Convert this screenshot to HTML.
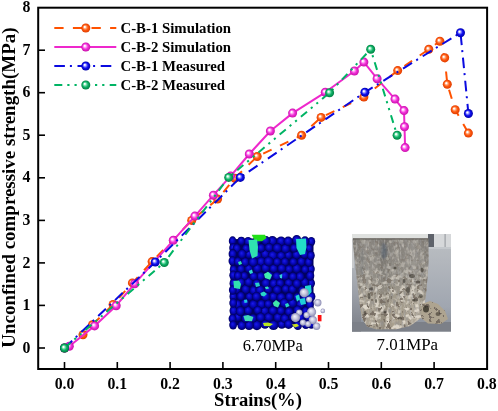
<!DOCTYPE html>
<html><head><meta charset="utf-8"><style>
html,body{margin:0;padding:0;background:#fff;width:498px;height:411px;overflow:hidden}
svg{display:block;will-change:transform}
.tl{font-family:"Liberation Serif",serif;font-weight:bold;font-size:15.8px;fill:#000}
.al{font-family:"Liberation Serif",serif;font-weight:bold;font-size:18.6px;fill:#000}
.yl{font-size:18.95px}
.lg{font-family:"Liberation Serif",serif;font-weight:bold;font-size:14.8px;fill:#000}
.it{font-family:"Liberation Serif",serif;font-size:16.3px;fill:#000}
</style></head><body>
<svg width="498" height="411" viewBox="0 0 498 411">
<defs><radialGradient id="gO" cx="0.5" cy="0.5" r="0.5" fx="0.36" fy="0.36">
<stop offset="0" stop-color="#ffffff"/><stop offset="0.12" stop-color="#ffffff" stop-opacity="0.95"/><stop offset="0.35" stop-color="#ffa070"/><stop offset="0.6" stop-color="#ff5a10"/><stop offset="1" stop-color="#e03c00"/></radialGradient><radialGradient id="gM" cx="0.5" cy="0.5" r="0.5" fx="0.36" fy="0.36">
<stop offset="0" stop-color="#ffffff"/><stop offset="0.12" stop-color="#ffffff" stop-opacity="0.95"/><stop offset="0.35" stop-color="#ff90f0"/><stop offset="0.6" stop-color="#f030d8"/><stop offset="1" stop-color="#c810a8"/></radialGradient><radialGradient id="gB" cx="0.5" cy="0.5" r="0.5" fx="0.36" fy="0.36">
<stop offset="0" stop-color="#ffffff"/><stop offset="0.12" stop-color="#ffffff" stop-opacity="0.95"/><stop offset="0.35" stop-color="#8080ff"/><stop offset="0.6" stop-color="#1010f0"/><stop offset="1" stop-color="#0000a8"/></radialGradient><radialGradient id="gG" cx="0.5" cy="0.5" r="0.5" fx="0.36" fy="0.36">
<stop offset="0" stop-color="#ffffff"/><stop offset="0.12" stop-color="#ffffff" stop-opacity="0.95"/><stop offset="0.35" stop-color="#70e0a8"/><stop offset="0.6" stop-color="#10b068"/><stop offset="1" stop-color="#008040"/></radialGradient><radialGradient id="sb" cx="0.5" cy="0.5" r="0.5" fx="0.42" fy="0.38">
<stop offset="0" stop-color="#1c1cec"/><stop offset="0.55" stop-color="#0606b8"/><stop offset="1" stop-color="#00005c"/></radialGradient>
<radialGradient id="sw" cx="0.5" cy="0.5" r="0.5" fx="0.4" fy="0.35">
<stop offset="0" stop-color="#f4f4fc"/><stop offset="0.45" stop-color="#ceceE4"/><stop offset="1" stop-color="#8c8cb4"/></radialGradient>
<linearGradient id="floor" x1="0" y1="0" x2="0" y2="1">
<stop offset="0" stop-color="#bcc0c4"/><stop offset="0.3" stop-color="#b2b6bc"/><stop offset="0.75" stop-color="#a0a6b0"/><stop offset="1" stop-color="#868c96"/></linearGradient>
<linearGradient id="samp" x1="0" y1="0" x2="0" y2="1">
<stop offset="0" stop-color="#86827c"/><stop offset="0.4" stop-color="#928e86"/><stop offset="0.7" stop-color="#a69e8e"/><stop offset="1" stop-color="#aca290"/></linearGradient>
<linearGradient id="sampH" x1="0" y1="0" x2="1" y2="0">
<stop offset="0" stop-color="#000" stop-opacity="0.12"/><stop offset="0.15" stop-color="#fff" stop-opacity="0.04"/><stop offset="0.4" stop-color="#000" stop-opacity="0.12"/><stop offset="0.55" stop-color="#000" stop-opacity="0.0"/><stop offset="0.8" stop-color="#fff" stop-opacity="0.1"/><stop offset="1" stop-color="#000" stop-opacity="0.04"/></linearGradient>
<filter id="grain" x="0" y="0" width="1" height="1">
<feTurbulence type="fractalNoise" baseFrequency="0.5 0.14" numOctaves="2" seed="5" result="n"/>
<feColorMatrix in="n" type="matrix" values="0 0 0 0 0.3  0 0 0 0 0.29  0 0 0 0 0.28  -3.2 0 0 0 1.75" result="a"/>
<feComposite in="a" in2="SourceGraphic" operator="in"/>
</filter>
<filter id="grainL" x="0" y="0" width="1" height="1">
<feTurbulence type="fractalNoise" baseFrequency="0.5 0.2" numOctaves="2" seed="15" result="n"/>
<feColorMatrix in="n" type="matrix" values="0 0 0 0 0.85  0 0 0 0 0.81  0 0 0 0 0.74  3.4 0 0 0 -1.75" result="a"/>
<feComposite in="a" in2="SourceGraphic" operator="in"/>
</filter>
<filter id="spots" x="0" y="0" width="1" height="1">
<feTurbulence type="fractalNoise" baseFrequency="0.24" numOctaves="3" seed="9" result="n"/>
<feColorMatrix in="n" type="matrix" values="0 0 0 0 0.18  0 0 0 0 0.15  0 0 0 0 0.12  0 0 0 -16 6.4" result="a"/>
<feComposite in="a" in2="SourceGraphic" operator="in"/>
</filter>
<filter id="light" x="0" y="0" width="1" height="1">
<feTurbulence type="fractalNoise" baseFrequency="0.2" numOctaves="2" seed="21" result="n"/>
<feColorMatrix in="n" type="matrix" values="0 0 0 0 0.85  0 0 0 0 0.8  0 0 0 0 0.71  0 0 0 5 -2.45" result="a"/>
<feComposite in="a" in2="SourceGraphic" operator="in"/>
</filter>
<linearGradient id="lowmask" x1="0" y1="0" x2="0" y2="1">
<stop offset="0" stop-color="#000" stop-opacity="0.3"/><stop offset="0.3" stop-color="#000" stop-opacity="0.45"/><stop offset="0.55" stop-color="#000" stop-opacity="0.8"/><stop offset="0.75" stop-color="#000" stop-opacity="1"/></linearGradient>
<linearGradient id="lfloor" x1="0" y1="0" x2="0" y2="1"><stop offset="0" stop-color="#aeb2b8"/><stop offset="0.4" stop-color="#9ca0a8"/><stop offset="1" stop-color="#7a7e86"/></linearGradient>
<filter id="bl1"><feGaussianBlur stdDeviation="1.2"/></filter>
<filter id="blS" x="-0.05" y="-0.05" width="1.1" height="1.1"><feGaussianBlur stdDeviation="0.55"/></filter>
<filter id="bl05"><feGaussianBlur stdDeviation="0.6"/></filter></defs>
<rect x="38.2" y="7.7" width="448.9" height="361.3" fill="none" stroke="#000" stroke-width="2"/>
<line x1="64.5" y1="368" x2="64.5" y2="362" stroke="#000" stroke-width="1.6"/>
<line x1="117.3" y1="368" x2="117.3" y2="362" stroke="#000" stroke-width="1.6"/>
<line x1="170.1" y1="368" x2="170.1" y2="362" stroke="#000" stroke-width="1.6"/>
<line x1="222.9" y1="368" x2="222.9" y2="362" stroke="#000" stroke-width="1.6"/>
<line x1="275.7" y1="368" x2="275.7" y2="362" stroke="#000" stroke-width="1.6"/>
<line x1="328.5" y1="368" x2="328.5" y2="362" stroke="#000" stroke-width="1.6"/>
<line x1="381.3" y1="368" x2="381.3" y2="362" stroke="#000" stroke-width="1.6"/>
<line x1="434.1" y1="368" x2="434.1" y2="362" stroke="#000" stroke-width="1.6"/>
<line x1="39" y1="348.0" x2="45" y2="348.0" stroke="#000" stroke-width="1.6"/>
<line x1="39" y1="305.4" x2="45" y2="305.4" stroke="#000" stroke-width="1.6"/>
<line x1="39" y1="262.9" x2="45" y2="262.9" stroke="#000" stroke-width="1.6"/>
<line x1="39" y1="220.4" x2="45" y2="220.4" stroke="#000" stroke-width="1.6"/>
<line x1="39" y1="177.8" x2="45" y2="177.8" stroke="#000" stroke-width="1.6"/>
<line x1="39" y1="135.2" x2="45" y2="135.2" stroke="#000" stroke-width="1.6"/>
<line x1="39" y1="92.7" x2="45" y2="92.7" stroke="#000" stroke-width="1.6"/>
<line x1="39" y1="50.2" x2="45" y2="50.2" stroke="#000" stroke-width="1.6"/>
<text x="64.5" y="389" class="tl" text-anchor="middle">0.0</text>
<text x="117.3" y="389" class="tl" text-anchor="middle">0.1</text>
<text x="170.1" y="389" class="tl" text-anchor="middle">0.2</text>
<text x="222.9" y="389" class="tl" text-anchor="middle">0.3</text>
<text x="275.7" y="389" class="tl" text-anchor="middle">0.4</text>
<text x="328.5" y="389" class="tl" text-anchor="middle">0.5</text>
<text x="381.3" y="389" class="tl" text-anchor="middle">0.6</text>
<text x="434.1" y="389" class="tl" text-anchor="middle">0.7</text>
<text x="486.9" y="389" class="tl" text-anchor="middle">0.8</text>
<text x="30.3" y="352.6" class="tl" text-anchor="end">0</text>
<text x="30.3" y="310.1" class="tl" text-anchor="end">1</text>
<text x="30.3" y="267.5" class="tl" text-anchor="end">2</text>
<text x="30.3" y="225.0" class="tl" text-anchor="end">3</text>
<text x="30.3" y="182.4" class="tl" text-anchor="end">4</text>
<text x="30.3" y="139.8" class="tl" text-anchor="end">5</text>
<text x="30.3" y="97.3" class="tl" text-anchor="end">6</text>
<text x="30.3" y="54.8" class="tl" text-anchor="end">7</text>
<text x="30.3" y="12.2" class="tl" text-anchor="end">8</text>
<text x="258" y="405.6" class="al" text-anchor="middle">Strains(%)</text>
<text transform="translate(14.6,187.6) rotate(-90)" class="al yl" text-anchor="middle">Unconfined compressive strength(MPa)</text>
<path d="M232.5,239.2 Q272.0,237.2 311.5,239.2 L313.5,244.2 L313.5,324.5 Q272.0,329.5 230.5,324.5 L230.5,244.2 Z" fill="#02025e"/>
<ellipse cx="232.6" cy="240.9" rx="3.8" ry="4.6" fill="url(#sb)"/>
<ellipse cx="311.3" cy="241.6" rx="3.9" ry="4.7" fill="url(#sb)"/>
<ellipse cx="233.6" cy="310.8" rx="4.1" ry="4.8" fill="url(#sb)"/>
<ellipse cx="268.2" cy="289.4" rx="4.5" ry="4.5" fill="url(#sb)"/>
<ellipse cx="236.8" cy="289.3" rx="4.1" ry="4.7" fill="url(#sb)"/>
<ellipse cx="256.9" cy="325.2" rx="4.9" ry="5.0" fill="url(#sb)"/>
<ellipse cx="301.4" cy="261.7" rx="4.4" ry="4.8" fill="url(#sb)"/>
<ellipse cx="311.1" cy="311.1" rx="3.9" ry="4.7" fill="url(#sb)"/>
<ellipse cx="308.8" cy="317.5" rx="4.2" ry="4.8" fill="url(#sb)"/>
<ellipse cx="265.3" cy="254.0" rx="4.8" ry="4.8" fill="url(#sb)"/>
<ellipse cx="309.2" cy="248.2" rx="3.8" ry="4.4" fill="url(#sb)"/>
<ellipse cx="233.6" cy="283.4" rx="4.1" ry="4.8" fill="url(#sb)"/>
<ellipse cx="305.6" cy="311.1" rx="4.1" ry="4.7" fill="url(#sb)"/>
<ellipse cx="249.5" cy="296.6" rx="4.1" ry="4.4" fill="url(#sb)"/>
<ellipse cx="264.6" cy="311.0" rx="4.8" ry="4.8" fill="url(#sb)"/>
<ellipse cx="288.3" cy="255.0" rx="4.2" ry="4.3" fill="url(#sb)"/>
<ellipse cx="300.3" cy="304.4" rx="4.4" ry="4.8" fill="url(#sb)"/>
<ellipse cx="253.9" cy="290.4" rx="4.7" ry="4.9" fill="url(#sb)"/>
<ellipse cx="248.2" cy="310.5" rx="4.4" ry="4.7" fill="url(#sb)"/>
<ellipse cx="272.4" cy="241.0" rx="4.9" ry="4.9" fill="url(#sb)"/>
<ellipse cx="304.4" cy="254.0" rx="4.4" ry="4.9" fill="url(#sb)"/>
<ellipse cx="233.3" cy="296.5" rx="3.8" ry="4.4" fill="url(#sb)"/>
<ellipse cx="237.9" cy="304.3" rx="4.0" ry="4.5" fill="url(#sb)"/>
<ellipse cx="310.9" cy="269.1" rx="3.9" ry="4.7" fill="url(#sb)"/>
<ellipse cx="273.3" cy="296.7" rx="4.6" ry="4.6" fill="url(#sb)"/>
<ellipse cx="265.9" cy="283.1" rx="4.9" ry="4.9" fill="url(#sb)"/>
<ellipse cx="281.8" cy="324.3" rx="4.4" ry="4.4" fill="url(#sb)"/>
<ellipse cx="260.1" cy="290.0" rx="4.8" ry="4.9" fill="url(#sb)"/>
<ellipse cx="233.5" cy="269.6" rx="3.8" ry="4.5" fill="url(#sb)"/>
<ellipse cx="272.8" cy="255.5" rx="5.0" ry="5.0" fill="url(#sb)"/>
<ellipse cx="232.8" cy="290.1" rx="3.9" ry="4.7" fill="url(#sb)"/>
<ellipse cx="296.7" cy="268.5" rx="4.6" ry="4.9" fill="url(#sb)"/>
<ellipse cx="269.7" cy="275.5" rx="4.4" ry="4.4" fill="url(#sb)"/>
<ellipse cx="281.1" cy="255.7" rx="4.5" ry="4.5" fill="url(#sb)"/>
<ellipse cx="253.0" cy="318.2" rx="4.3" ry="4.4" fill="url(#sb)"/>
<ellipse cx="233.2" cy="247.9" rx="4.0" ry="4.7" fill="url(#sb)"/>
<ellipse cx="273.6" cy="268.5" rx="4.5" ry="4.5" fill="url(#sb)"/>
<ellipse cx="297.6" cy="310.2" rx="4.5" ry="4.8" fill="url(#sb)"/>
<ellipse cx="288.7" cy="283.1" rx="4.5" ry="4.7" fill="url(#sb)"/>
<ellipse cx="248.8" cy="268.5" rx="4.3" ry="4.6" fill="url(#sb)"/>
<ellipse cx="309.8" cy="304.6" rx="4.0" ry="4.7" fill="url(#sb)"/>
<ellipse cx="296.5" cy="254.6" rx="4.5" ry="4.7" fill="url(#sb)"/>
<ellipse cx="248.1" cy="241.4" rx="4.2" ry="4.5" fill="url(#sb)"/>
<ellipse cx="296.7" cy="240.0" rx="4.6" ry="4.9" fill="url(#sb)"/>
<ellipse cx="256.6" cy="241.7" rx="4.5" ry="4.6" fill="url(#sb)"/>
<ellipse cx="248.9" cy="254.2" rx="4.3" ry="4.5" fill="url(#sb)"/>
<ellipse cx="289.0" cy="269.2" rx="4.3" ry="4.4" fill="url(#sb)"/>
<ellipse cx="285.5" cy="248.6" rx="4.8" ry="4.9" fill="url(#sb)"/>
<ellipse cx="281.1" cy="297.2" rx="4.6" ry="4.6" fill="url(#sb)"/>
<ellipse cx="311.1" cy="283.3" rx="3.9" ry="4.7" fill="url(#sb)"/>
<ellipse cx="257.6" cy="255.5" rx="4.2" ry="4.3" fill="url(#sb)"/>
<ellipse cx="304.8" cy="282.4" rx="4.4" ry="4.9" fill="url(#sb)"/>
<ellipse cx="261.1" cy="261.7" rx="4.8" ry="4.8" fill="url(#sb)"/>
<ellipse cx="245.1" cy="262.1" rx="4.4" ry="4.7" fill="url(#sb)"/>
<ellipse cx="273.5" cy="325.1" rx="5.0" ry="5.0" fill="url(#sb)"/>
<ellipse cx="265.6" cy="267.9" rx="4.7" ry="4.7" fill="url(#sb)"/>
<ellipse cx="310.1" cy="275.7" rx="4.2" ry="5.0" fill="url(#sb)"/>
<ellipse cx="276.7" cy="276.3" rx="4.5" ry="4.5" fill="url(#sb)"/>
<ellipse cx="281.1" cy="241.2" rx="4.7" ry="4.8" fill="url(#sb)"/>
<ellipse cx="265.8" cy="240.8" rx="4.7" ry="4.7" fill="url(#sb)"/>
<ellipse cx="278.0" cy="317.4" rx="4.8" ry="4.8" fill="url(#sb)"/>
<ellipse cx="236.9" cy="248.3" rx="4.1" ry="4.6" fill="url(#sb)"/>
<ellipse cx="237.9" cy="317.2" rx="3.9" ry="4.4" fill="url(#sb)"/>
<ellipse cx="284.9" cy="261.9" rx="4.2" ry="4.3" fill="url(#sb)"/>
<ellipse cx="284.8" cy="275.7" rx="4.5" ry="4.6" fill="url(#sb)"/>
<ellipse cx="268.7" cy="317.3" rx="4.8" ry="4.8" fill="url(#sb)"/>
<ellipse cx="245.7" cy="289.2" rx="4.5" ry="4.9" fill="url(#sb)"/>
<ellipse cx="277.1" cy="261.9" rx="4.3" ry="4.3" fill="url(#sb)"/>
<ellipse cx="284.9" cy="318.4" rx="4.6" ry="4.7" fill="url(#sb)"/>
<ellipse cx="308.8" cy="262.2" rx="4.2" ry="4.8" fill="url(#sb)"/>
<ellipse cx="294.1" cy="248.1" rx="4.2" ry="4.4" fill="url(#sb)"/>
<ellipse cx="273.9" cy="283.5" rx="4.7" ry="4.7" fill="url(#sb)"/>
<ellipse cx="265.7" cy="296.6" rx="4.8" ry="4.9" fill="url(#sb)"/>
<ellipse cx="289.1" cy="311.7" rx="4.5" ry="4.6" fill="url(#sb)"/>
<ellipse cx="260.7" cy="276.4" rx="4.7" ry="4.7" fill="url(#sb)"/>
<ellipse cx="253.4" cy="304.5" rx="4.7" ry="4.9" fill="url(#sb)"/>
<ellipse cx="232.7" cy="254.0" rx="4.1" ry="4.9" fill="url(#sb)"/>
<ellipse cx="292.6" cy="317.3" rx="4.1" ry="4.3" fill="url(#sb)"/>
<ellipse cx="311.3" cy="324.1" rx="3.9" ry="4.7" fill="url(#sb)"/>
<ellipse cx="284.3" cy="303.1" rx="4.8" ry="4.9" fill="url(#sb)"/>
<ellipse cx="261.4" cy="304.2" rx="4.6" ry="4.7" fill="url(#sb)"/>
<ellipse cx="249.1" cy="325.2" rx="4.7" ry="4.9" fill="url(#sb)"/>
<ellipse cx="241.0" cy="269.0" rx="4.1" ry="4.5" fill="url(#sb)"/>
<ellipse cx="233.3" cy="275.3" rx="4.0" ry="4.7" fill="url(#sb)"/>
<ellipse cx="300.1" cy="276.6" rx="4.5" ry="4.9" fill="url(#sb)"/>
<ellipse cx="301.1" cy="317.6" rx="4.1" ry="4.4" fill="url(#sb)"/>
<ellipse cx="232.5" cy="318.7" rx="3.9" ry="4.7" fill="url(#sb)"/>
<ellipse cx="292.5" cy="302.9" rx="4.7" ry="4.9" fill="url(#sb)"/>
<ellipse cx="248.6" cy="282.0" rx="4.5" ry="4.7" fill="url(#sb)"/>
<ellipse cx="280.1" cy="283.2" rx="4.4" ry="4.4" fill="url(#sb)"/>
<ellipse cx="245.0" cy="303.1" rx="4.5" ry="4.9" fill="url(#sb)"/>
<ellipse cx="232.4" cy="261.0" rx="3.9" ry="4.7" fill="url(#sb)"/>
<ellipse cx="252.4" cy="247.3" rx="4.8" ry="5.0" fill="url(#sb)"/>
<ellipse cx="237.9" cy="261.6" rx="4.1" ry="4.6" fill="url(#sb)"/>
<ellipse cx="285.7" cy="288.9" rx="4.3" ry="4.3" fill="url(#sb)"/>
<ellipse cx="280.8" cy="310.7" rx="4.3" ry="4.4" fill="url(#sb)"/>
<ellipse cx="268.3" cy="304.0" rx="4.3" ry="4.3" fill="url(#sb)"/>
<ellipse cx="233.1" cy="325.0" rx="3.9" ry="4.6" fill="url(#sb)"/>
<ellipse cx="268.6" cy="261.4" rx="5.0" ry="5.0" fill="url(#sb)"/>
<ellipse cx="253.7" cy="276.4" rx="4.3" ry="4.4" fill="url(#sb)"/>
<ellipse cx="297.2" cy="297.2" rx="4.1" ry="4.4" fill="url(#sb)"/>
<ellipse cx="276.4" cy="304.3" rx="4.3" ry="4.3" fill="url(#sb)"/>
<ellipse cx="311.5" cy="296.6" rx="3.9" ry="4.7" fill="url(#sb)"/>
<ellipse cx="265.0" cy="324.3" rx="4.4" ry="4.5" fill="url(#sb)"/>
<ellipse cx="257.3" cy="268.4" rx="4.5" ry="4.6" fill="url(#sb)"/>
<ellipse cx="240.8" cy="296.1" rx="4.2" ry="4.7" fill="url(#sb)"/>
<ellipse cx="233.2" cy="303.0" rx="3.9" ry="4.7" fill="url(#sb)"/>
<ellipse cx="246.0" cy="248.5" rx="4.1" ry="4.4" fill="url(#sb)"/>
<ellipse cx="310.9" cy="255.6" rx="3.9" ry="4.7" fill="url(#sb)"/>
<ellipse cx="305.8" cy="324.5" rx="4.1" ry="4.6" fill="url(#sb)"/>
<ellipse cx="244.3" cy="275.9" rx="4.1" ry="4.4" fill="url(#sb)"/>
<ellipse cx="261.0" cy="248.0" rx="4.5" ry="4.5" fill="url(#sb)"/>
<ellipse cx="237.9" cy="275.7" rx="3.9" ry="4.5" fill="url(#sb)"/>
<ellipse cx="241.8" cy="325.4" rx="4.3" ry="4.7" fill="url(#sb)"/>
<ellipse cx="288.6" cy="324.2" rx="4.7" ry="4.8" fill="url(#sb)"/>
<ellipse cx="253.2" cy="262.0" rx="4.8" ry="5.0" fill="url(#sb)"/>
<ellipse cx="257.8" cy="310.3" rx="4.3" ry="4.4" fill="url(#sb)"/>
<ellipse cx="269.1" cy="247.6" rx="4.5" ry="4.5" fill="url(#sb)"/>
<ellipse cx="293.3" cy="262.0" rx="4.2" ry="4.3" fill="url(#sb)"/>
<ellipse cx="256.7" cy="283.4" rx="4.2" ry="4.3" fill="url(#sb)"/>
<ellipse cx="277.3" cy="248.0" rx="4.9" ry="4.9" fill="url(#sb)"/>
<ellipse cx="281.7" cy="268.3" rx="4.4" ry="4.4" fill="url(#sb)"/>
<ellipse cx="292.9" cy="276.6" rx="4.2" ry="4.4" fill="url(#sb)"/>
<ellipse cx="245.6" cy="318.5" rx="4.4" ry="4.7" fill="url(#sb)"/>
<ellipse cx="289.5" cy="296.7" rx="4.3" ry="4.5" fill="url(#sb)"/>
<ellipse cx="297.8" cy="325.5" rx="4.2" ry="4.5" fill="url(#sb)"/>
<ellipse cx="277.2" cy="289.7" rx="4.6" ry="4.6" fill="url(#sb)"/>
<ellipse cx="305.0" cy="269.4" rx="3.9" ry="4.4" fill="url(#sb)"/>
<ellipse cx="301.8" cy="248.6" rx="4.5" ry="4.9" fill="url(#sb)"/>
<ellipse cx="260.6" cy="317.3" rx="4.7" ry="4.7" fill="url(#sb)"/>
<ellipse cx="304.9" cy="296.7" rx="4.4" ry="4.9" fill="url(#sb)"/>
<ellipse cx="240.3" cy="311.2" rx="4.5" ry="5.0" fill="url(#sb)"/>
<ellipse cx="292.4" cy="289.1" rx="4.2" ry="4.3" fill="url(#sb)"/>
<ellipse cx="302.0" cy="290.4" rx="4.0" ry="4.4" fill="url(#sb)"/>
<ellipse cx="288.2" cy="241.3" rx="4.6" ry="4.7" fill="url(#sb)"/>
<ellipse cx="241.3" cy="241.0" rx="3.9" ry="4.3" fill="url(#sb)"/>
<ellipse cx="309.1" cy="289.5" rx="3.9" ry="4.5" fill="url(#sb)"/>
<ellipse cx="272.9" cy="310.6" rx="4.6" ry="4.6" fill="url(#sb)"/>
<ellipse cx="256.5" cy="296.6" rx="4.6" ry="4.7" fill="url(#sb)"/>
<ellipse cx="305.0" cy="241.2" rx="4.4" ry="4.9" fill="url(#sb)"/>
<ellipse cx="296.9" cy="283.6" rx="4.4" ry="4.7" fill="url(#sb)"/>
<ellipse cx="241.1" cy="282.4" rx="4.1" ry="4.5" fill="url(#sb)"/>
<ellipse cx="242.1" cy="254.1" rx="4.4" ry="4.9" fill="url(#sb)"/>
<polygon points="251.7,234.8 265,234.8 266.5,238 262,241.3 255,241.3" fill="#22e018"/>
<polygon points="248.5,240 257,239.5 258,247 257.5,256 252,258.5 249.5,250" fill="#30e0b0"/>
<polygon points="296,239 306,238.5 306.5,247 305,254 300,255 296.5,248" fill="#22dcc8"/>
<polygon points="233.4,281 239,280.4 241,284 240,289 234,288" fill="#30e0b0"/>
<polygon points="264,274 268,271.8 272,275 270,279.8 265,278" fill="#40f0b0"/>
<polygon points="248.8,271 252,269.6 253,273 250,274" fill="#30d8d0"/>
<polygon points="260.4,293 264,291.5 267,294 264,296.6 261,295.5" fill="#28d8c8"/>
<polygon points="264.8,287 268,286.4 269,288.5 266,289.3" fill="#30e0c0"/>
<polygon points="272.8,303 276,300 280,303 278,307.6 274,306" fill="#40e8a8"/>
<polygon points="279.4,275 282.3,274 282,278.4 280,278" fill="#30d0e0"/>
<polygon points="295.5,296 299,294.4 300,299 297,301.7" fill="#20d8d0"/>
<polygon points="285,304 288,303 289.6,306 286,307.6" fill="#28d8c8"/>
<polygon points="243.4,316 248,315 253.3,317 252,321.3 245,321" fill="#40d8b8"/>
<polygon points="263,323 268,322.6 273,324 270,326.3 264,326" fill="#b8e820"/>
<polygon points="291.8,324.5 297,323.8 299,326 295,327.5" fill="#c8e020"/>
<polygon points="305,286 311,285 311.6,292 308,296 305,292" fill="#20d8d0"/>
<polygon points="299,299 305,298 306,304 301,305" fill="#20d0d8"/>
<polygon points="255,283 259,282.5 260,286 256,287" fill="#28d0c8"/>
<polygon points="238,262 241,261 242,264 239,265" fill="#30e0b0"/>
<polygon points="244,300 247,299.5 247.5,302.5 244.5,303" fill="#20c8e0"/>
<rect x="317.8" y="315" width="3.7" height="6.3" fill="#ff1010"/>
<circle cx="304.2" cy="292.8" r="4.6" fill="url(#sw)"/>
<circle cx="309.1" cy="299.5" r="3.1" fill="url(#sw)"/>
<circle cx="317.8" cy="302.7" r="3.7" fill="url(#sw)"/>
<circle cx="322.8" cy="310.9" r="2.3" fill="url(#sw)"/>
<circle cx="299.2" cy="312.6" r="3.1" fill="url(#sw)"/>
<circle cx="311.6" cy="311.9" r="4.6" fill="url(#sw)"/>
<circle cx="295.5" cy="317.6" r="4.6" fill="url(#sw)"/>
<circle cx="306.6" cy="315.1" r="3.1" fill="url(#sw)"/>
<circle cx="312.8" cy="320.1" r="4.1" fill="url(#sw)"/>
<circle cx="302.9" cy="322.6" r="3.1" fill="url(#sw)"/>
<circle cx="316.6" cy="326.3" r="3.7" fill="url(#sw)"/>
<circle cx="308" cy="324" r="3.0" fill="url(#sw)"/>
<text x="242.7" y="350.8" class="it" style="font-size:16.5px">6.70MPa</text>
<rect x="352" y="234" width="99" height="97.5" fill="url(#floor)"/>
<rect x="352" y="234" width="99" height="4.8" fill="#dfe1df"/>
<rect x="428" y="234" width="23" height="13" fill="#d6d8da"/>
<rect x="428" y="234" width="6" height="13" fill="#5e626a"/>
<rect x="444.5" y="234" width="1.2" height="13" fill="#9ca0a4"/>
<rect x="428" y="247" width="23" height="2" fill="#c4c8cc"/>
<rect x="352" y="239" width="2" height="30" fill="#c8cacc"/>
<rect x="352" y="268" width="9" height="63.5" fill="url(#lfloor)"/>
<rect x="352" y="322" width="99" height="9.5" fill="#7c8088"/>
<g filter="url(#blS)">
<polygon points="352.9,238.6 428.4,238.4 428.6,262 426.5,290 424.5,306 421,318 410,326 396,329.3 376,329.3 367,326.5 362,318 359.6,304 357,280 354.5,258 352.9,242" fill="url(#samp)"/>
<polygon points="352.9,238.6 428.4,238.4 428.6,262 426.5,290 424.5,306 421,318 410,326 396,329.3 376,329.3 367,326.5 362,318 359.6,304 357,280 354.5,258 352.9,242" fill="url(#sampH)"/>
<g filter="url(#grain)" opacity="0.75"><polygon points="352.9,238.6 428.4,238.4 428.6,262 426.5,290 424.5,306 421,318 410,326 396,329.3 376,329.3 367,326.5 362,318 359.6,304 357,280 354.5,258 352.9,242" fill="#000"/></g>
<g filter="url(#grainL)" opacity="0.3"><polygon points="352.9,238.6 428.4,238.4 428.6,262 426.5,290 424.5,306 421,318 410,326 396,329.3 376,329.3 367,326.5 362,318 359.6,304 357,280 354.5,258 352.9,242" fill="#000"/></g>
<g filter="url(#light)" opacity="0.75"><polygon points="352.9,238.6 428.4,238.4 428.6,262 426.5,290 424.5,306 421,318 410,326 396,329.3 376,329.3 367,326.5 362,318 359.6,304 357,280 354.5,258 352.9,242" fill="url(#lowmask)"/></g>
<g filter="url(#spots)" opacity="0.9"><polygon points="352.9,238.6 428.4,238.4 428.6,262 426.5,290 424.5,306 421,318 410,326 396,329.3 376,329.3 367,326.5 362,318 359.6,304 357,280 354.5,258 352.9,242" fill="url(#lowmask)"/></g>
<rect x="353" y="238.2" width="75.4" height="1.4" fill="#5e5a54" opacity="0.7"/>
<ellipse cx="384" cy="251" rx="3" ry="8" fill="#56606c" opacity="0.7" filter="url(#bl1)"/>
<ellipse cx="362" cy="262" rx="2" ry="14" fill="#6c6e70" opacity="0.45" filter="url(#bl1)"/>
<ellipse cx="412" cy="276" rx="3" ry="2" fill="#2e2a24" opacity="0.55" filter="url(#bl05)"/>
<ellipse cx="418" cy="282" rx="2.5" ry="1.5" fill="#2e2a24" opacity="0.55" filter="url(#bl05)"/>
<ellipse cx="408" cy="290" rx="2" ry="3" fill="#2e2a24" opacity="0.55" filter="url(#bl05)"/>
<ellipse cx="421" cy="296" rx="2" ry="2" fill="#2e2a24" opacity="0.55" filter="url(#bl05)"/>
<ellipse cx="415" cy="300" rx="3" ry="1.5" fill="#2e2a24" opacity="0.55" filter="url(#bl05)"/>
<ellipse cx="404" cy="281" rx="1.5" ry="2" fill="#2e2a24" opacity="0.55" filter="url(#bl05)"/>
<ellipse cx="369" cy="296" rx="1.5" ry="3" fill="#2e2a24" opacity="0.55" filter="url(#bl05)"/>
<ellipse cx="371" cy="289" rx="2" ry="1.5" fill="#2e2a24" opacity="0.55" filter="url(#bl05)"/>
<ellipse cx="376" cy="301" rx="1.2" ry="2" fill="#2e2a24" opacity="0.55" filter="url(#bl05)"/>
<ellipse cx="395" cy="268" rx="1.5" ry="1.2" fill="#2e2a24" opacity="0.55" filter="url(#bl05)"/>
<ellipse cx="422" cy="270" rx="1.5" ry="2.5" fill="#2e2a24" opacity="0.55" filter="url(#bl05)"/>
<ellipse cx="385" cy="312" rx="1.6" ry="1.2" fill="#2e2a24" opacity="0.55" filter="url(#bl05)"/>
<ellipse cx="400" cy="318" rx="2" ry="1.2" fill="#2e2a24" opacity="0.55" filter="url(#bl05)"/>
<ellipse cx="365" cy="313" rx="1.4" ry="2" fill="#2e2a24" opacity="0.55" filter="url(#bl05)"/>
<polygon points="422,304 430,301 438,304 445,311 448,319 441,324 428,323.5 421,318" fill="#aea490"/>
<g filter="url(#spots)"><polygon points="422,304 430,301 438,304 445,311 448,319 441,324 428,323.5 421,318" fill="#000"/></g>
<ellipse cx="426" cy="309" rx="3" ry="3.5" fill="#2e2a24" opacity="0.75" filter="url(#bl05)"/>
<ellipse cx="438" cy="314" rx="2.5" ry="2" fill="#3a342c" opacity="0.6" filter="url(#bl05)"/>
</g>
<text x="376.6" y="349.5" class="it" style="font-size:16.9px">7.01MPa</text>
<path d="M64.5,348.0 L83.0,334.8 L92.5,324.8 L113.1,304.4 L132.4,282.9 L152.1,261.6 L191.7,220.4 L217.6,199.1 L234.8,178.2 L257.2,156.5 L301.6,135.2 L321.1,117.4 L363.9,97.0 L397.7,70.6 L428.8,49.3 L439.9,41.2 L444.7,57.8 L447.3,84.2 L455.2,109.7 L468.4,133.1" fill="none" stroke="#ff5200" stroke-width="2" stroke-dasharray="9.3 9.3" stroke-linejoin="round"/>
<circle cx="64.5" cy="348.0" r="4.5" fill="url(#gO)"/>
<circle cx="83.0" cy="334.8" r="4.5" fill="url(#gO)"/>
<circle cx="92.5" cy="324.8" r="4.5" fill="url(#gO)"/>
<circle cx="113.1" cy="304.4" r="4.5" fill="url(#gO)"/>
<circle cx="132.4" cy="282.9" r="4.5" fill="url(#gO)"/>
<circle cx="152.1" cy="261.6" r="4.5" fill="url(#gO)"/>
<circle cx="191.7" cy="220.4" r="4.5" fill="url(#gO)"/>
<circle cx="217.6" cy="199.1" r="4.5" fill="url(#gO)"/>
<circle cx="234.8" cy="178.2" r="4.5" fill="url(#gO)"/>
<circle cx="257.2" cy="156.5" r="4.5" fill="url(#gO)"/>
<circle cx="301.6" cy="135.2" r="4.5" fill="url(#gO)"/>
<circle cx="321.1" cy="117.4" r="4.5" fill="url(#gO)"/>
<circle cx="363.9" cy="97.0" r="4.5" fill="url(#gO)"/>
<circle cx="397.7" cy="70.6" r="4.5" fill="url(#gO)"/>
<circle cx="428.8" cy="49.3" r="4.5" fill="url(#gO)"/>
<circle cx="439.9" cy="41.2" r="4.5" fill="url(#gO)"/>
<circle cx="444.7" cy="57.8" r="4.5" fill="url(#gO)"/>
<circle cx="447.3" cy="84.2" r="4.5" fill="url(#gO)"/>
<circle cx="455.2" cy="109.7" r="4.5" fill="url(#gO)"/>
<circle cx="468.4" cy="133.1" r="4.5" fill="url(#gO)"/>
<path d="M69.3,346.3 L94.6,325.9 L116.2,305.7 L134.7,283.7 L173.3,240.3 L194.9,216.1 L213.4,195.2 L230.6,176.1 L249.3,154.0 L270.4,131.0 L292.6,113.1 L325.3,92.3 L354.4,71.0 L363.9,62.1 L377.1,78.7 L395.0,99.1 L404.0,110.6 L404.5,126.7 L405.1,147.6" fill="none" stroke="#ee28cc" stroke-width="2" stroke-linejoin="round"/>
<circle cx="69.3" cy="346.3" r="4.5" fill="url(#gM)"/>
<circle cx="94.6" cy="325.9" r="4.5" fill="url(#gM)"/>
<circle cx="116.2" cy="305.7" r="4.5" fill="url(#gM)"/>
<circle cx="134.7" cy="283.7" r="4.5" fill="url(#gM)"/>
<circle cx="173.3" cy="240.3" r="4.5" fill="url(#gM)"/>
<circle cx="194.9" cy="216.1" r="4.5" fill="url(#gM)"/>
<circle cx="213.4" cy="195.2" r="4.5" fill="url(#gM)"/>
<circle cx="230.6" cy="176.1" r="4.5" fill="url(#gM)"/>
<circle cx="249.3" cy="154.0" r="4.5" fill="url(#gM)"/>
<circle cx="270.4" cy="131.0" r="4.5" fill="url(#gM)"/>
<circle cx="292.6" cy="113.1" r="4.5" fill="url(#gM)"/>
<circle cx="325.3" cy="92.3" r="4.5" fill="url(#gM)"/>
<circle cx="354.4" cy="71.0" r="4.5" fill="url(#gM)"/>
<circle cx="363.9" cy="62.1" r="4.5" fill="url(#gM)"/>
<circle cx="377.1" cy="78.7" r="4.5" fill="url(#gM)"/>
<circle cx="395.0" cy="99.1" r="4.5" fill="url(#gM)"/>
<circle cx="404.0" cy="110.6" r="4.5" fill="url(#gM)"/>
<circle cx="404.5" cy="126.7" r="4.5" fill="url(#gM)"/>
<circle cx="405.1" cy="147.6" r="4.5" fill="url(#gM)"/>
<path d="M64.5,348.0 L155.3,262.0 L240.3,177.4 L364.9,92.3 L460.5,32.7 L468.4,113.5" fill="none" stroke="#0a0ae0" stroke-width="2" stroke-dasharray="10.6 5 2 5.6" stroke-linejoin="round"/>
<circle cx="64.5" cy="348.0" r="4.5" fill="url(#gB)"/>
<circle cx="155.3" cy="262.0" r="4.5" fill="url(#gB)"/>
<circle cx="240.3" cy="177.4" r="4.5" fill="url(#gB)"/>
<circle cx="364.9" cy="92.3" r="4.5" fill="url(#gB)"/>
<circle cx="460.5" cy="32.7" r="4.5" fill="url(#gB)"/>
<circle cx="468.4" cy="113.5" r="4.5" fill="url(#gB)"/>
<path d="M64.5,348.0 L164.3,262.5 L228.7,177.4 L329.6,92.7 L370.7,49.3 L397.1,135.2" fill="none" stroke="#00b464" stroke-width="2" stroke-dasharray="8 5 2.2 5 2.2 5.3" stroke-linejoin="round"/>
<circle cx="64.5" cy="348.0" r="4.5" fill="url(#gG)"/>
<circle cx="164.3" cy="262.5" r="4.5" fill="url(#gG)"/>
<circle cx="228.7" cy="177.4" r="4.5" fill="url(#gG)"/>
<circle cx="329.6" cy="92.7" r="4.5" fill="url(#gG)"/>
<circle cx="370.7" cy="49.3" r="4.5" fill="url(#gG)"/>
<circle cx="397.1" cy="135.2" r="4.5" fill="url(#gG)"/>
<line x1="54.3" y1="28" x2="116.3" y2="28" stroke="#ff5200" stroke-width="2" stroke-dasharray="9.3 9.3"/>
<circle cx="85.8" cy="28" r="4.5" fill="url(#gO)"/>
<text x="120.5" y="33" class="lg">C-B-1 Simulation</text>
<line x1="54.3" y1="47" x2="116.3" y2="47" stroke="#ee28cc" stroke-width="2"/>
<circle cx="85.8" cy="47" r="4.5" fill="url(#gM)"/>
<text x="120.5" y="52" class="lg">C-B-2 Simulation</text>
<line x1="54.3" y1="66" x2="116.3" y2="66" stroke="#0a0ae0" stroke-width="2" stroke-dasharray="10.6 5 2 5.6"/>
<circle cx="85.8" cy="66" r="4.5" fill="url(#gB)"/>
<text x="120.5" y="71" class="lg">C-B-1 Measured</text>
<line x1="54.3" y1="85" x2="116.3" y2="85" stroke="#00b464" stroke-width="2" stroke-dasharray="8 5 2.2 5 2.2 5.3"/>
<circle cx="85.8" cy="85" r="4.5" fill="url(#gG)"/>
<text x="120.5" y="90" class="lg">C-B-2 Measured</text>
</svg>
</body></html>
